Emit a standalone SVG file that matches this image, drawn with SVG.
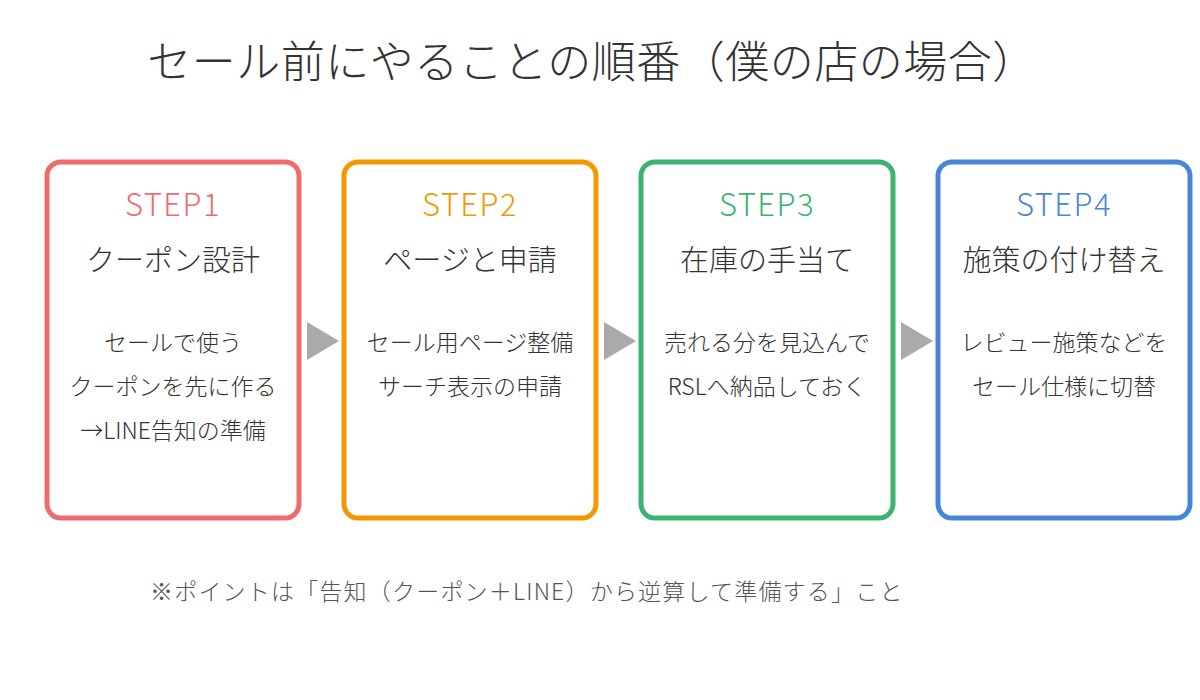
<svg xmlns="http://www.w3.org/2000/svg" width="1200" height="700" viewBox="0 0 1200 700">
<style>
text{font-family:"Noto Sans CJK JP","Noto Sans",sans-serif;font-weight:300;fill:#333;text-anchor:middle}
.box{fill:#fff;stroke-width:5}
.step{font-size:31px;letter-spacing:1.5px}
.sub{font-size:29px}
.body{font-size:23px}
.arr{fill:#aaa}
</style>
<rect width="1200" height="700" fill="#fff"/>
<text x="592" y="78" font-size="44" fill="#444" letter-spacing="0.5">セール前にやることの順番（僕の店の場合）</text>
<g id="step1">
<rect class="box" x="47" y="162" width="252" height="356" rx="14" stroke="#EE6B6E"/>
<text class="step" x="173" y="216" style="fill:#EE6B6E">STEP1</text>
<text class="sub" x="173" y="271">クーポン設計</text>
<text class="body" x="173" y="351">セールで使う</text>
<text class="body" x="173" y="395">クーポンを先に作る</text>
<text class="body" x="173" y="439">→LINE告知の準備</text>
</g>
<g id="step2">
<rect class="box" x="344" y="162" width="252" height="356" rx="14" stroke="#F39800"/>
<text class="step" x="470" y="216" style="fill:#F39800">STEP2</text>
<text class="sub" x="470" y="271">ページと申請</text>
<text class="body" x="470" y="351">セール用ページ整備</text>
<text class="body" x="470" y="395">サーチ表示の申請</text>
</g>
<g id="step3">
<rect class="box" x="641" y="162" width="252" height="356" rx="14" stroke="#3CB371"/>
<text class="step" x="767" y="216" style="fill:#3CB371">STEP3</text>
<text class="sub" x="767" y="271">在庫の手当て</text>
<text class="body" x="767" y="351">売れる分を見込んで</text>
<text class="body" x="767" y="395">RSLへ納品しておく</text>
</g>
<g id="step4">
<rect class="box" x="938" y="162" width="252" height="356" rx="14" stroke="#4A86D8"/>
<text class="step" x="1064" y="216" style="fill:#4A86D8">STEP4</text>
<text class="sub" x="1064" y="271">施策の付け替え</text>
<text class="body" x="1064" y="351">レビュー施策などを</text>
<text class="body" x="1064" y="395">セール仕様に切替</text>
</g>
<g id="connectors">
<polygon class="arr" points="307,322 339,341 307,360"/>
<polygon class="arr" points="604,322 636,341 604,360"/>
<polygon class="arr" points="901,322 933,341 901,360"/>
</g>
<text x="150" y="600" font-size="23" letter-spacing="1.2" style="text-anchor:start;fill:#555">※ポイントは「告知（クーポン＋LINE）から逆算して準備する」こと</text>
</svg>
